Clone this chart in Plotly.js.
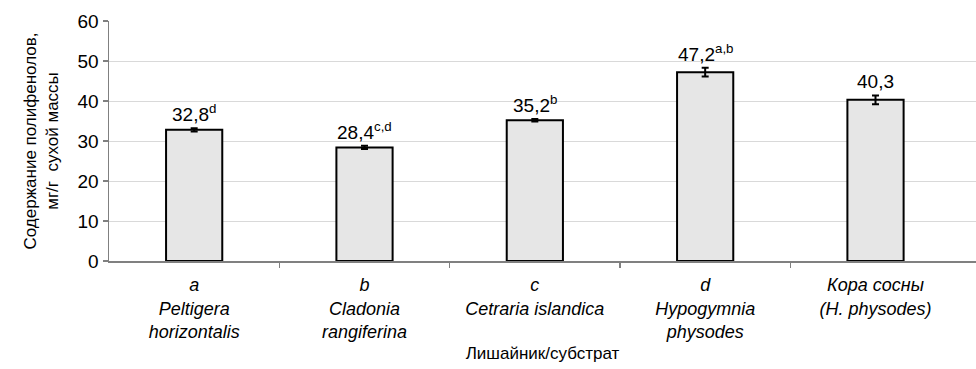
<!DOCTYPE html>
<html>
<head>
<meta charset="utf-8">
<script src="https://cdn.plot.ly/plotly-3.0.1.min.js"></script>
<style>html,body{margin:0;padding:0;background:#fff;}#chart{width:976px;height:369px;}</style>
</head>
<body>
<div id="chart"></div>
<script>
const categories = ["<i>a</i><br><i>Peltigera</i><br><i>horizontalis</i>",
  "<i>b</i><br><i>Cladonia</i><br><i>rangiferina</i>",
  "<i>c</i><br><i>Cetraria islandica</i>",
  "<i>d</i><br><i>Hypogymnia</i><br><i>physodes</i>",
  "<i>Кора сосны</i><br><i>(H. physodes)</i>"];
const values = [32.8, 28.4, 35.2, 47.2, 40.3];
const errors = [0.4, 0.4, 0.3, 1.1, 1.1];
const valueLabels = ["32,8", "28,4", "35,2", "47,2", "40,3"];
const superscripts = ["d", "c,d", "b", "a,b", ""];

const xs = values.map((v, i) => i);

const trace = {
  type: "bar",
  x: xs,
  y: values,
  width: 0.33,
  marker: {color: "#e6e6e6", line: {color: "#000", width: 2}},
  error_y: {type: "data", array: errors, visible: true, color: "#000", thickness: 2, width: 3.5},
  hoverinfo: "none"
};

const annotations = values.map((v, i) => ({
  x: xs[i], y: v + errors[i], xref: "x", yref: "y",
  text: valueLabels[i] + (superscripts[i] ? "<sup>" + superscripts[i] + "</sup>" : ""),
  showarrow: false, yanchor: "bottom", yshift: 1,
  font: {family: "Liberation Sans, Arial, sans-serif", size: 19, color: "#000"}
}));

const layout = {
  width: 976, height: 369,
  margin: {l: 109, r: 0, t: 21, b: 108},
  paper_bgcolor: "#fff", plot_bgcolor: "#fff",
  showlegend: false,
  font: {family: "Liberation Sans, Arial, sans-serif", size: 17, color: "#000"},
  xaxis: {
    range: [-0.5, 4.59],
    tickmode: "array", tickvals: xs, ticktext: categories,
    ticks: "", showgrid: false, zeroline: false,
    showline: true, linecolor: "#808080", linewidth: 1.5,
    tickfont: {size: 18},
    ticklabelstandoff: 7,
    minor: {tickmode: "array", tickvals: [0.5, 1.5, 2.5, 3.5], ticks: "outside", ticklen: 5, tickcolor: "#808080", tickwidth: 1.5, showgrid: false},
    title: {text: "Лишайник/субстрат", font: {size: 17}, standoff: 6},
    fixedrange: true
  },
  yaxis: {
    range: [0, 60], dtick: 10, tick0: 0,
    ticks: "outside", ticklen: 5, tickcolor: "#808080", tickwidth: 1.5,
    showline: true, linecolor: "#808080", linewidth: 1.5,
    showgrid: true, gridcolor: "#d9d9d9", gridwidth: 1,
    zeroline: false,
    tickfont: {size: 19},
    title: {text: "Содержание полифенолов,<br>мг/г  сухой массы", font: {size: 17}, standoff: 14},
    fixedrange: true
  },
  annotations: annotations
};

Plotly.newPlot("chart", [trace], layout, {displayModeBar: false, staticPlot: true});
</script>
</body>
</html>
